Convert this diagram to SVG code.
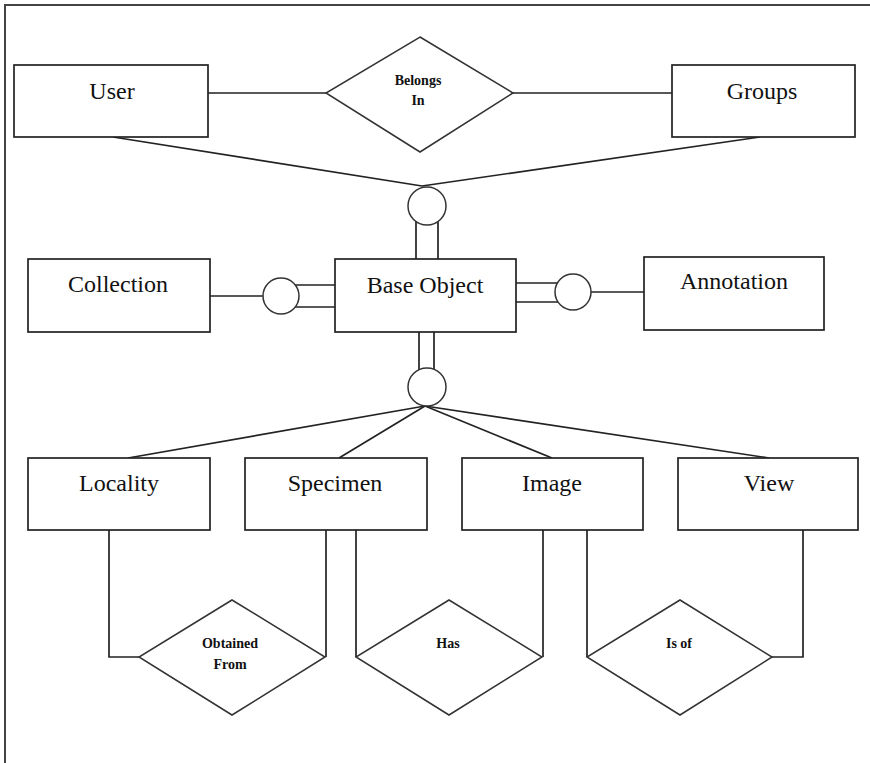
<svg xmlns="http://www.w3.org/2000/svg" width="870" height="763" viewBox="0 0 870 763">
<style>
.box{fill:#fff;stroke:#222;stroke-width:1.7}
.rel{fill:#fff;stroke:#333;stroke-width:1.5}
.ln{fill:none;stroke:#222;stroke-width:1.7}
.lbl{font-family:"Liberation Serif",serif;font-size:24px;fill:#111;text-anchor:middle}
.sm{font-family:"Liberation Serif",serif;font-size:14px;font-weight:bold;fill:#111;text-anchor:middle}
</style>
<rect width="870" height="763" fill="#fff"/>
<path d="M5,763 V5 H870" fill="none" stroke="#444" stroke-width="2"/>
<g id="connectors">
<line class="ln" x1="208" y1="93" x2="326" y2="93"/>
<line class="ln" x1="513" y1="93" x2="672" y2="93"/>
<line class="ln" x1="113" y1="137" x2="422" y2="186"/>
<line class="ln" x1="760" y1="137" x2="422" y2="186"/>
<line class="ln" x1="416" y1="215" x2="416" y2="259"/>
<line class="ln" x1="438" y1="215" x2="438" y2="259"/>
<line class="ln" x1="210" y1="296" x2="263" y2="296"/>
<line class="ln" x1="285" y1="285" x2="335" y2="285"/>
<line class="ln" x1="285" y1="307" x2="335" y2="307"/>
<line class="ln" x1="516" y1="283" x2="570" y2="283"/>
<line class="ln" x1="516" y1="302" x2="570" y2="302"/>
<line class="ln" x1="591" y1="292" x2="644" y2="292"/>
<line class="ln" x1="419" y1="332" x2="419" y2="385"/>
<line class="ln" x1="434" y1="332" x2="434" y2="385"/>
<line class="ln" x1="425" y1="406" x2="128" y2="458"/>
<line class="ln" x1="425" y1="406" x2="339" y2="458"/>
<line class="ln" x1="425" y1="406" x2="552" y2="458"/>
<line class="ln" x1="425" y1="406" x2="769" y2="458"/>
<polyline class="ln" points="109,530 109,657 139,657"/>
<line class="ln" x1="326" y1="530" x2="326" y2="657"/>
<line class="ln" x1="356" y1="530" x2="356" y2="657"/>
<line class="ln" x1="543" y1="530" x2="543" y2="657"/>
<line class="ln" x1="587" y1="530" x2="587" y2="657"/>
<polyline class="ln" points="772,657 803,657 803,530"/>
<circle class="rel" cx="427" cy="206" r="19"/>
<circle class="rel" cx="281" cy="296" r="18"/>
<circle class="rel" cx="573" cy="292" r="18"/>
<circle class="rel" cx="427" cy="387" r="19"/>
</g>
<g id="user"><rect class="box" x="14" y="65" width="194" height="72"/><text class="lbl" x="112" y="99">User</text></g>
<g id="groups"><rect class="box" x="672" y="65" width="183" height="72"/><text class="lbl" x="762" y="99">Groups</text></g>
<g id="belongs-in"><polygon class="rel" points="420,37 513,93 420,152 326,93"/><text class="sm" x="418" y="85">Belongs</text><text class="sm" x="418" y="105">In</text></g>
<g id="collection"><rect class="box" x="28" y="259" width="182" height="73"/><text class="lbl" x="118" y="292">Collection</text></g>
<g id="base-object"><rect class="box" x="335" y="259" width="181" height="73"/><text class="lbl" x="425" y="293">Base Object</text></g>
<g id="annotation"><rect class="box" x="644" y="257" width="180" height="73"/><text class="lbl" x="734" y="289">Annotation</text></g>
<g id="locality"><rect class="box" x="28" y="458" width="182" height="72"/><text class="lbl" x="119" y="491">Locality</text></g>
<g id="specimen"><rect class="box" x="245" y="458" width="182" height="72"/><text class="lbl" x="335" y="491">Specimen</text></g>
<g id="image"><rect class="box" x="462" y="458" width="181" height="72"/><text class="lbl" x="552" y="491">Image</text></g>
<g id="view"><rect class="box" x="678" y="458" width="180" height="72"/><text class="lbl" x="769" y="491">View</text></g>
<g id="obtained-from"><polygon class="rel" points="232,600 325,657 232,715 139,657"/><text class="sm" x="230" y="648">Obtained</text><text class="sm" x="230" y="669">From</text></g>
<g id="has"><polygon class="rel" points="449,600 542,657 449,715 356,657"/><text class="sm" x="448" y="648">Has</text></g>
<g id="is-of"><polygon class="rel" points="680,600 772,657 680,715 587,657"/><text class="sm" x="679" y="648">Is of</text></g>
</svg>
